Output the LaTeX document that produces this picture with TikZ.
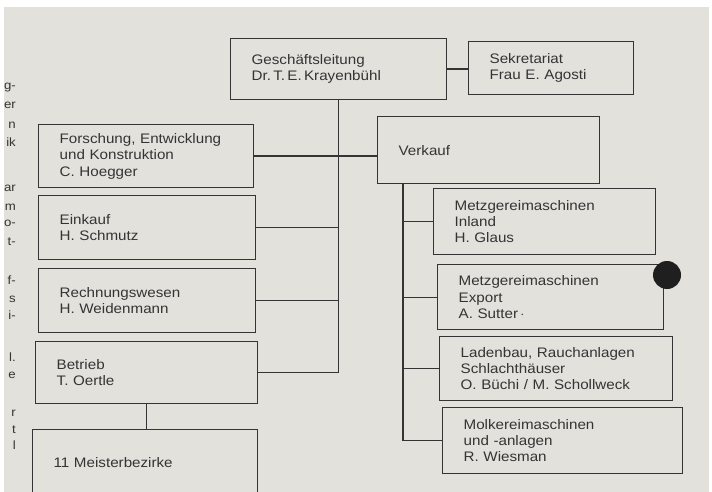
\documentclass[tikz,border=0pt]{standalone}
\usepackage{fontspec}
\setmainfont[FakeStretch=1.1]{Liberation Sans}
\usepackage{tikz}
\definecolor{paper}{RGB}{227,225,220}
\definecolor{ink}{RGB}{52,52,52}
\tikzstyle{orgbox}=[draw=ink,line width=1.3pt,text=ink,anchor=north west,align=left,inner xsep=21pt,inner ysep=0pt,font=\fontsize{13.8}{16.3}\selectfont]
\tikzstyle{orgline}=[draw=ink,line width=1.3pt]
\tikzstyle{margintext}=[text=ink,anchor=east,inner sep=0pt,font=\fontsize{12}{14}\selectfont]
\newcommand{\orgbox}[6]{
  \node[orgbox,text width=#4pt-42pt,minimum height=#5pt] (#1) at (#2,#3) {#6};
}

\begin{document}
\begin{tikzpicture}[x=1pt,y=-1pt]
\useasboundingbox (0,0) rectangle (712,492);
\fill[white] (0,0) rectangle (712,492);
\fill[paper] (4,7) rectangle (709,492);

\foreach \t/\y in {g-/88,er/105,n/125,ik/142,ar/188,m/207,o-/223,t-/242,f-/280,s/299,i-/315,l./357,e/375,r/413,t/430,l/445}
  \node[margintext] (frag\y) at (16,\y) {\t};

\orgbox{gl}{230}{38}{216}{61}{Geschäftsleitung\\Dr.\,T.\,E.\,Krayenbühl}
\orgbox{sek}{468}{41}{165}{53}{Sekretariat\\Frau E. Agosti}

\orgbox{fo}{38}{124}{215}{63}{Forschung, Entwicklung\\und Konstruktion\\C. Hoegger}
\orgbox{ek}{38}{195}{217}{64}{Einkauf\\H. Schmutz}
\orgbox{rw}{38}{268}{217}{64}{Rechnungswesen\\H. Weidenmann}
\orgbox{bt}{35}{341}{222}{62}{Betrieb\\T. Oertle}
\orgbox{mb}{32}{429}{225}{66}{11 Meisterbezirke}

\orgbox{vk}{377}{116}{222}{67}{Verkauf}
\orgbox{in}{433}{188}{222}{66}{Metzgereimaschinen\\Inland\\H. Glaus}
\orgbox{ex}{437}{264}{226}{65}{Metzgereimaschinen\\Export\\A. Sutter\,$\cdot$}
\orgbox{lb}{439}{336}{233}{64}{Ladenbau, Rauchanlagen\\Schlachthäuser\\O. Büchi / M. Schollweck}
\orgbox{mo}{442}{407}{240}{66}{Molkereimaschinen\\und -anlagen\\R. Wiesman}

\coordinate (vt) at ([xshift=26pt]vk.south west);

\draw[orgline] (gl.east) -- (gl.east -| sek.west);
\draw[orgline] (gl.south) -- (gl.south |- bt.east);
\draw[orgline] (fo.east) -- (fo.east -| vk.west);
\draw[orgline] (ek.east) -- (ek.east -| gl.south);
\draw[orgline] (rw.east) -- (rw.east -| gl.south);
\draw[orgline] (bt.east) -- (bt.east -| gl.south);
\draw[orgline] (bt.south) -- (bt.south |- mb.north);

\draw[orgline] (vt) -- (vt |- mo.west);
\draw[orgline] (vt |- in.west) -- (in.west);
\draw[orgline] (vt |- ex.west) -- (ex.west);
\draw[orgline] (vt |- lb.west) -- (lb.west);
\draw[orgline] (vt |- mo.west) -- (mo.west);

\fill[black!88] (667,275) circle (14);
\end{tikzpicture}
\end{document}
